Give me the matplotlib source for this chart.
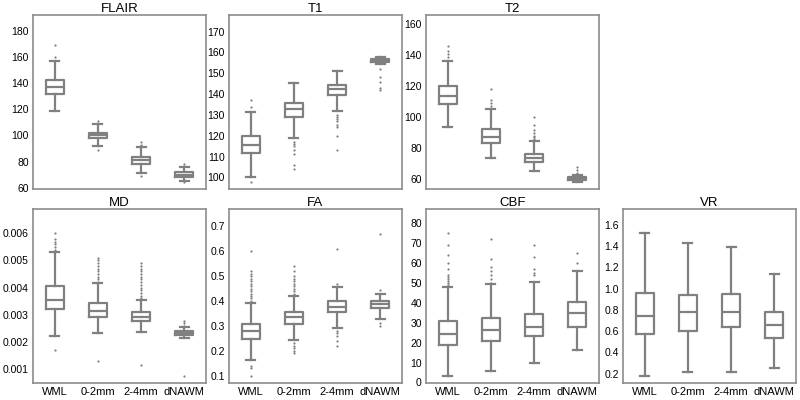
import numpy as np
import matplotlib
matplotlib.use('Agg')
import matplotlib.pyplot as plt

plt.rcParams['font.family'] = ['Liberation Sans', 'DejaVu Sans']

groups = ['WML', '0-2mm', '2-4mm', 'dNAWM']

# FLAIR
flair_lo = [119, 92, 71, 65]
flair_q1 = [131.5, 98, 78, 68]
flair_med = [137, 100, 81, 70]
flair_q3 = [142, 102, 83.5, 72]
flair_hi = [157, 109, 91, 76]
flair_fl = [[160, 169], [89, 111], [69, 93, 95], [64, 78]]

# T1
t1_lo = [100, 119, 132, 154.5]
t1_q1 = [111.5, 128.8, 139.6, 155.5]
t1_med = [115.5, 132.8, 142.5, 156.2]
t1_q3 = [120, 135.6, 144.4, 157]
t1_hi = [131.6, 145.5, 151.3, 158]
t1_fl = [[98, 134, 137], [117, 116, 115, 113, 111, 106, 104],
         [130, 129, 128, 127, 125, 124, 120, 113], [152, 148, 146, 143, 142]]

# T2
t2_lo = [93.5, 74, 65.5, 58]
t2_q1 = [108.8, 83.6, 71, 59.5]
t2_med = [113.4, 87.5, 73.6, 60.5]
t2_q3 = [120.2, 92.3, 76.4, 61.5]
t2_hi = [136.3, 105.4, 85, 63]
t2_fl = [[139, 141, 143, 146], [107, 109, 111, 118],
         [86, 87, 88, 90, 92, 95, 100], [64, 66, 68]]

# MD
md_lo = [0.00223, 0.00231, 0.00238, 0.00215]
md_q1 = [0.00321, 0.00293, 0.00277, 0.00225]
md_med = [0.00356, 0.00315, 0.00293, 0.00234]
md_q3 = [0.00407, 0.00344, 0.00311, 0.00241]
md_hi = [0.0053, 0.00416, 0.00354, 0.00256]
md_fl = [[0.00168, 0.0054, 0.0055, 0.0056, 0.0057, 0.0058, 0.006],
         [0.0013, 0.0042, 0.0043, 0.0044, 0.0045, 0.0046, 0.0047, 0.0048, 0.0049, 0.005, 0.0051],
         [0.00115, 0.0036, 0.0037, 0.0038, 0.0039, 0.004, 0.0041, 0.0042, 0.0043, 0.0044,
          0.0045, 0.0046, 0.0047, 0.0048, 0.0049],
         [0.00075, 0.0026, 0.0027, 0.00275]]

# FA
fa_lo = [0.162, 0.242, 0.29, 0.329]
fa_q1 = [0.247, 0.307, 0.355, 0.372]
fa_med = [0.28, 0.334, 0.377, 0.387]
fa_q3 = [0.307, 0.354, 0.398, 0.40]
fa_hi = [0.392, 0.418, 0.455, 0.43]
fa_fl = [[0.10, 0.13, 0.14, 0.40, 0.41, 0.42, 0.43, 0.44, 0.45, 0.46, 0.47, 0.48, 0.49,
          0.50, 0.51, 0.52, 0.60],
         [0.19, 0.20, 0.21, 0.22, 0.23, 0.43, 0.44, 0.45, 0.46, 0.47, 0.48, 0.49, 0.50, 0.52, 0.54],
         [0.22, 0.24, 0.26, 0.27, 0.28, 0.47, 0.61],
         [0.30, 0.31, 0.445, 0.67]]

# CBF
cbf_lo = [3.3, 5.5, 9.7, 16.1]
cbf_q1 = [18.6, 20.9, 23.1, 28.1]
cbf_med = [24.3, 26.4, 28.1, 34.8]
cbf_q3 = [30.7, 32.3, 34.3, 40.3]
cbf_hi = [48.2, 49.4, 50.7, 56.1]
cbf_fl = [[49, 50, 51, 52, 53, 54, 57, 60, 64, 69, 75],
          [50, 52, 54, 56, 58, 62, 72],
          [54, 55, 57, 63, 69],
          [60, 65]]

# VR
vr_lo = [0.175, 0.219, 0.219, 0.253]
vr_q1 = [0.573, 0.604, 0.635, 0.535]
vr_med = [0.739, 0.78, 0.78, 0.66]
vr_q3 = [0.958, 0.936, 0.948, 0.78]
vr_hi = [1.522, 1.434, 1.39, 1.136]
vr_fl = [[], [], [], []]

panels = [
    ('FLAIR', flair_lo, flair_q1, flair_med, flair_q3, flair_hi, flair_fl, (59, 192), [60, 80, 100, 120, 140, 160, 180], '%d'),
    ('T1', t1_lo, t1_q1, t1_med, t1_q3, t1_hi, t1_fl, (94.4, 178), [100, 110, 120, 130, 140, 150, 160, 170], '%d'),
    ('T2', t2_lo, t2_q1, t2_med, t2_q3, t2_hi, t2_fl, (53.7, 166), [60, 80, 100, 120, 140, 160], '%d'),
    ('MD', md_lo, md_q1, md_med, md_q3, md_hi, md_fl, (0.00048, 0.0069), [0.001, 0.002, 0.003, 0.004, 0.005, 0.006], '%.3f'),
    ('FA', fa_lo, fa_q1, fa_med, fa_q3, fa_hi, fa_fl, (0.07, 0.77), [0.1, 0.2, 0.3, 0.4, 0.5, 0.6, 0.7], '%.1f'),
    ('CBF', cbf_lo, cbf_q1, cbf_med, cbf_q3, cbf_hi, cbf_fl, (-0.3, 87.2), [0, 10, 20, 30, 40, 50, 60, 70, 80], '%d'),
    ('VR', vr_lo, vr_q1, vr_med, vr_q3, vr_hi, vr_fl, (0.112, 1.75), [0.2, 0.4, 0.6, 0.8, 1.0, 1.2, 1.4, 1.6], '%.1f'),
]

lefts = [33, 229, 426, 623]
grey = '#808080'

fig = plt.figure(figsize=(8, 4), dpi=100)

for k, (name, lo, q1, med, q3, hi, fl, ylim, yt, fmt) in enumerate(panels):
    if k < 3:
        col, top = k, 15
    else:
        col, top = k - 3, 209
    ax = fig.add_axes([lefts[col] / 800, 1 - (top + 174) / 400, 173 / 800, 174 / 400])
    stats = []
    for i in range(4):
        stats.append({'whislo': lo[i], 'q1': q1[i], 'med': med[i], 'q3': q3[i],
                      'whishi': hi[i], 'fliers': fl[i]})
    ax.bxp(stats, positions=[1, 2, 3, 4], widths=0.42,
           boxprops=dict(color=grey, linewidth=1.6),
           medianprops=dict(color=grey, linewidth=1.6),
           whiskerprops=dict(color=grey, linewidth=1.6),
           capprops=dict(color=grey, linewidth=1.6),
           flierprops=dict(marker='o', markersize=1.6, markerfacecolor=grey,
                           markeredgecolor='none'))
    ax.set_xlim(0.5, 4.5)
    ax.set_ylim(ylim)
    ax.set_yticks(yt)
    ax.set_yticklabels([fmt % v for v in yt], fontsize=7.5)
    if k < 3:
        ax.set_xticks([])
    else:
        ax.set_xticks([1, 2, 3, 4])
        ax.set_xticklabels(groups, fontsize=8)
    ax.tick_params(length=0, pad=3)
    for s in ax.spines.values():
        s.set_color('#8c8c8c')
        s.set_linewidth(1.2)
    ax.set_title(name, fontsize=9.5, pad=2)

fig.savefig('out.png', dpi=100)
